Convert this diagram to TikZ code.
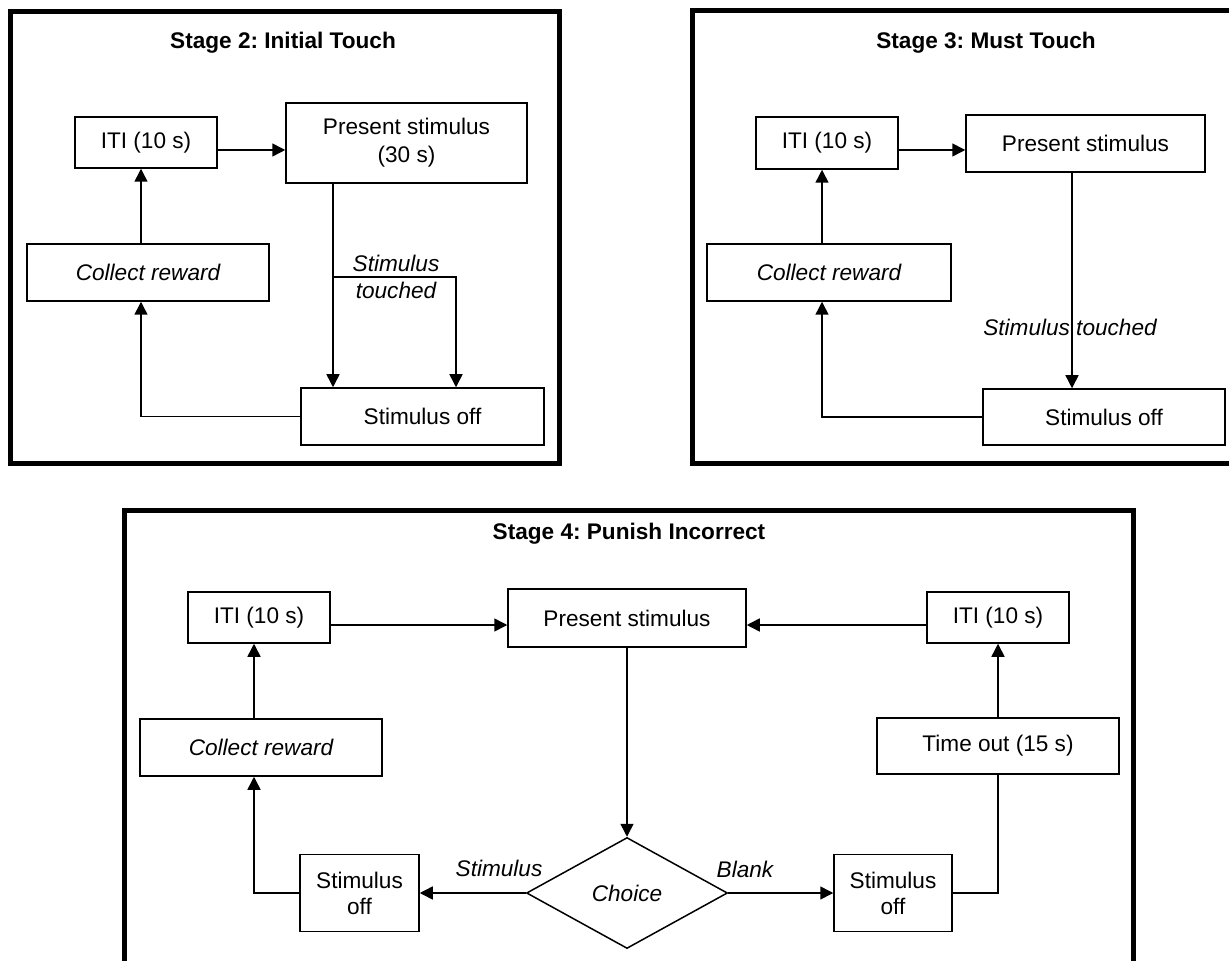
\documentclass[tikz,border=0pt]{standalone}
\usepackage{fontspec}
\setmainfont{Liberation Sans}
\usetikzlibrary{arrows.meta,shapes.geometric}
\frenchspacing
\begin{document}
\begin{tikzpicture}[x=0.5pt,y=-0.5pt,
  box/.style={draw, line width=0.75pt, inner sep=0pt, align=center, font=\fontsize{11.3}{14}\selectfont},
  twoline/.style={font=\fontsize{11.3}{13}\selectfont},
  itbox/.style={font=\itshape\fontsize{11.3}{14}\selectfont},
  frame/.style={draw, line width=2.5pt},
  arr/.style={line width=0.75pt, -{Triangle[length=6.5pt,width=6.5pt]}},
  conn/.style={line width=0.75pt},
  ttl/.style={font=\bfseries\fontsize{11.3}{14}\selectfont, inner sep=0pt},
  lbl/.style={font=\itshape\fontsize{11.3}{13.5}\selectfont, align=center, inner sep=0pt}]
\path[use as bounding box] (0,0) rectangle (1229,961);
\clip (0,0) rectangle (1229,961);

% ---------- frames ----------
\draw[frame] (10.8,11.5) rectangle (559.5,463.5);
\draw[frame] (692.5,11) rectangle (1245,463.5);
\draw[frame] (124.5,510) rectangle (1133.5,990);

% ---------- Stage 2 ----------
\node[ttl] (t2) at (283,43) {Stage 2: Initial Touch};
\node[box, minimum width=71pt, minimum height=25.5pt] (iti2) at (146,142.5) {ITI (10 s)};
\node[box, minimum width=120.5pt, minimum height=40pt] (pres2) at (406.5,143) {Present stimulus\\(30 s)};
\node[box, itbox, minimum width=121pt, minimum height=28.5pt] (col2) at (148,272.5) {Collect reward};
\node[box, minimum width=121.5pt, minimum height=28.5pt] (off2) at (422.5,416.5) {Stimulus off};
\node[lbl] (lbl2) at (396,277) {Stimulus\\touched};

\draw[arr] ([yshift=-3.75pt]iti2.east) coordinate (s2a) -- (s2a -| pres2.west);
\draw[arr] ([xshift=-3.5pt]col2.north) coordinate (s2b) -- (s2b |- iti2.south);
\draw[arr] (off2.west) -| ([xshift=-3.5pt]col2.south);
\draw[arr] ([xshift=-36.75pt]pres2.south) coordinate (s2c) -- (s2c |- off2.north);
\draw[arr] (s2c |- lbl2.center) -| ([xshift=16.75pt]off2.north);

% ---------- Stage 3 ----------
\node[ttl] (t3) at (986,43) {Stage 3: Must Touch};
\node[box, minimum width=71pt, minimum height=26pt] (iti3) at (827,143) {ITI (10 s)};
\node[box, minimum width=119.5pt, minimum height=28.5pt] (pres3) at (1085.5,143.5) {Present stimulus};
\node[box, itbox, minimum width=122pt, minimum height=28.5pt] (col3) at (829,272.5) {Collect reward};
\node[box, minimum width=121pt, minimum height=28pt] (off3) at (1104,417) {Stimulus off};

\draw[arr] ([yshift=-3.5pt]iti3.east) coordinate (s3a) -- (s3a -| pres3.west);
\draw[arr] ([xshift=-3.5pt]col3.north) coordinate (s3b) -- (s3b |- iti3.south);
\draw[arr] (off3.west) -| ([xshift=-3.5pt]col3.south);
\draw[arr] ([xshift=-6.75pt]pres3.south) coordinate (s3c) -- (s3c |- off3.north);
\node[lbl] (lbl3) at (1070,327) {Stimulus touched};

% ---------- Stage 4 ----------
\node[ttl] (t4) at (629,534) {Stage 4: Punish Incorrect};
\node[box, minimum width=71pt, minimum height=25.5pt] (iti4l) at (259,617.5) {ITI (10 s)};
\node[box, minimum width=119pt, minimum height=29pt] (pres4) at (627,618) {Present stimulus};
\node[box, minimum width=71pt, minimum height=25.5pt] (iti4r) at (998,617.5) {ITI (10 s)};
\node[box, itbox, minimum width=121pt, minimum height=28.5pt] (col4) at (261,747.5) {Collect reward};
\node[box, minimum width=121pt, minimum height=28pt] (tout) at (998,746) {Time out (15 s)};
\node[box, twoline, minimum width=59.5pt, minimum height=38.5pt] (off4l) at (359.5,893) {Stimulus\\off};
\node[box, twoline, minimum width=59pt, minimum height=38.5pt] (off4r) at (893,893) {Stimulus\\off};
\node[draw, line width=0.75pt, shape=diamond, aspect=1.81, inner sep=0pt,
      minimum width=100.5pt, minimum height=55.5pt, itbox] (choice) at (627,893) {Choice};
\node[lbl] (lbl4s) at (499,868) {Stimulus};
\node[lbl] (lbl4b) at (745,869) {Blank};

\draw[arr] ([yshift=-3.75pt]iti4l.east) coordinate (s4a) -- (s4a -| pres4.west);
\draw[arr] ([yshift=-3.75pt]iti4r.west) coordinate (s4b) -- (s4b -| pres4.east);
\draw[arr] ([xshift=-3.5pt]col4.north) coordinate (s4c) -- (s4c |- iti4l.south);
\draw[arr] (off4l.west) -| ([xshift=-3.5pt]col4.south);
\draw[arr] (pres4.south) -- (choice.north);
\draw[arr] (choice.west) -- (off4l.east);
\draw[arr] (choice.east) -- (off4r.west);
\draw[conn] (off4r.east) -| (tout.south);
\draw[arr] (tout.north) -- (iti4r.south);
\end{tikzpicture}
\end{document}
